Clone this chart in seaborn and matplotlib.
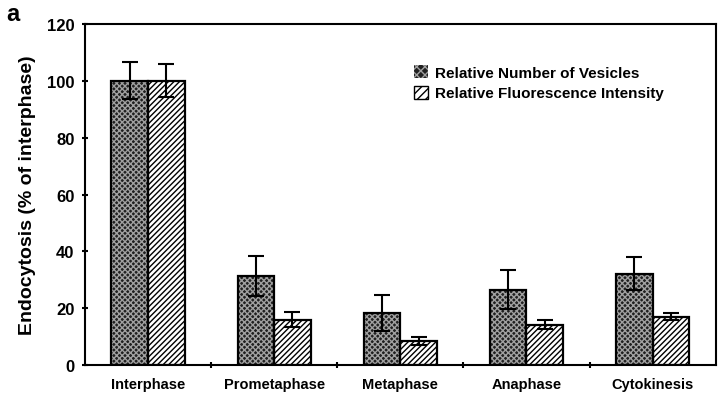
import numpy as np
import pandas as pd
import matplotlib
matplotlib.use('Agg')
import matplotlib.pyplot as plt
from matplotlib.patches import Rectangle, Patch
import seaborn as sns

# values
phases = ['Interphase', 'Prometaphase', 'Metaphase', 'Anaphase', 'Cytokinesis']
series = ['Relative Number of Vesicles', 'Relative Fluorescence Intensity']
vesicles = [100, 31.4, 18.3, 26.5, 32.1]
vesicles_err = [6.5, 7.0, 6.2, 6.8, 5.8]
fluor = [100, 16.0, 8.5, 14.2, 17.0]
fluor_err = [5.8, 2.7, 1.5, 1.6, 1.2]

df = pd.DataFrame({
    'phase': phases * 2,
    'series': [series[0]] * 5 + [series[1]] * 5,
    'value': vesicles + fluor,
})
errs = vesicles_err + fluor_err

sns.set_style('white')
plt.rcParams['font.family'] = ['Liberation Sans', 'DejaVu Sans']
plt.rcParams['text.color'] = 'black'
plt.rcParams['axes.labelcolor'] = 'black'
plt.rcParams['xtick.color'] = 'black'
plt.rcParams['ytick.color'] = 'black'
plt.rcParams['hatch.linewidth'] = 1.0

dark = '#202020'
hatch_light = '#a0a0a0'

fig = plt.figure(figsize=(7.2, 4.02), dpi=100)
ax = fig.add_axes([0.118, 0.0896, 0.876, 0.848])

sns.barplot(data=df, x='phase', y='value', hue='series', order=phases,
            hue_order=series, width=0.58, gap=0, errorbar=None,
            palette=[dark, 'white'], legend=False, ax=ax, zorder=2)

bars = ax.patches[:10]
for i, p in enumerate(bars):
    if i < 5:
        p.set_facecolor(dark)
        p.set_edgecolor(hatch_light)
        p.set_hatch('xxxxxx')
    else:
        p.set_facecolor('white')
        p.set_edgecolor('black')
        p.set_hatch('//////')
    p.set_linewidth(0)
    # solid outline on top
    ax.add_patch(Rectangle((p.get_x(), p.get_y()), p.get_width(), p.get_height(),
                           fill=False, edgecolor='black', lw=1.6, zorder=3))
    ax.errorbar(p.get_x() + p.get_width() / 2, p.get_height(), yerr=errs[i],
                fmt='none', ecolor='black', elinewidth=1.5, capsize=6,
                capthick=1.5, zorder=4)

ax.set_ylim(0, 120)
ax.set_xlim(-0.5, 4.5)
ax.set_yticks(np.arange(0, 121, 20))
ax.set_yticklabels([str(v) for v in range(0, 121, 20)], fontweight='bold', fontsize=12)
ax.set_xticks(range(5))
ax.set_xticklabels(phases, fontweight='bold', fontsize=10.5)
ax.set_xticks(np.arange(0.5, 4.5, 1), minor=True)
ax.tick_params(axis='x', which='major', length=0, pad=9)
ax.tick_params(axis='x', which='minor', length=5, width=1.5, direction='inout', bottom=True)
ax.tick_params(axis='y', length=5, width=1.5, direction='inout', left=True, pad=5)
ax.set_xlabel('')
ax.set_ylabel('Endocytosis (% of interphase)', fontweight='bold', fontsize=14, labelpad=8)

for s in ax.spines.values():
    s.set_visible(True)
    s.set_color('black')
    s.set_linewidth(1.5)

handles = [Patch(facecolor=dark, edgecolor=hatch_light, hatch='xxxx', lw=0),
           Patch(facecolor='white', edgecolor='black', hatch='////', lw=1)]
leg = ax.legend(handles, series, loc='upper left', bbox_to_anchor=(0.5, 0.92),
                frameon=False, fontsize=11, handlelength=0.9, handleheight=0.9,
                handletextpad=0.5, labelspacing=0.4)
for t in leg.get_texts():
    t.set_fontweight('bold')

fig.text(0.008, 0.965, 'a', fontsize=17, fontweight='bold', va='center')

fig.savefig('out.png', dpi=100)
